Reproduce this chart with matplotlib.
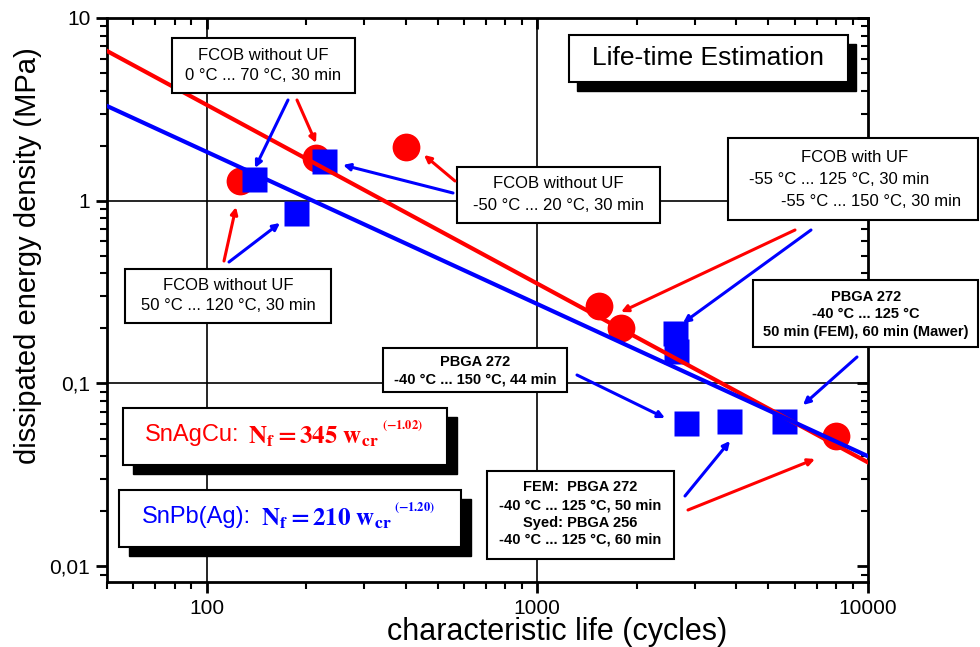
import matplotlib
matplotlib.use("Agg")
import matplotlib.pyplot as plt
from matplotlib.patches import Rectangle, FancyArrowPatch
from matplotlib.ticker import LogLocator, FuncFormatter, NullFormatter

plt.rcParams['font.family'] = ['Liberation Sans', 'DejaVu Sans']
plt.rcParams['mathtext.fontset'] = 'stix'

###### Data
snagcu_cycles = [126, 214, 400, 1540, 1790, 8020]
snagcu_energy = [1.29, 1.72, 1.98, 0.264, 0.20, 0.0515]
snpb_cycles = [139, 227, 187, 2600, 2620, 2810, 3790, 5580]
snpb_energy = [1.32, 1.66, 0.86, 0.19, 0.151, 0.0608, 0.062, 0.062]
fit_cycles = [50, 10000]
snagcu_fit = [6.6, 0.037]
snpb_fit = [3.3, 0.040]

RED, BLUE = '#ff0000', '#0000ff'
W, H = 980, 647

def fx(x): return x / W
def fy(y): return 1 - y / H

fig = plt.figure(figsize=(W / 100, H / 100), dpi=100)
ax = fig.add_axes([fx(107), fy(582), (868 - 107) / W, (582 - 18) / H])

###### Plot
ax.plot(snagcu_cycles, snagcu_energy, 'o', color=RED, ms=20, mec='none', zorder=3)
ax.plot(snpb_cycles, snpb_energy, 's', color=BLUE, ms=18, mec='none', zorder=4)
ax.plot(fit_cycles, snagcu_fit, '-', color=RED, lw=3, zorder=5)
ax.plot(fit_cycles, snpb_fit, '-', color=BLUE, lw=3, zorder=6)

ax.set_xscale('log')
ax.set_yscale('log')
ax.set_xlim(50, 10000)
ax.set_ylim(0.0082, 10)

for v in [100, 1000]:
    ax.axvline(v, color='black', lw=1.2, zorder=1)
for v in [0.1, 1]:
    ax.axhline(v, color='black', lw=1.2, zorder=1)

fmt = FuncFormatter(lambda v, p: f"{v:g}".replace('.', ','))
ax.xaxis.set_major_formatter(fmt)
ax.yaxis.set_major_formatter(fmt)
ax.xaxis.set_minor_formatter(NullFormatter())
ax.yaxis.set_minor_formatter(NullFormatter())
ax.yaxis.set_major_locator(LogLocator(base=10, numticks=10))
ax.yaxis.set_minor_locator(LogLocator(base=10, subs=range(2, 10), numticks=20))

for s in ax.spines.values():
    s.set_linewidth(2)
ax.tick_params(which='major', direction='out', length=8, width=2, labelsize=15, pad=4)
ax.tick_params(which='minor', direction='out', length=5, width=1.5)

secx = ax.secondary_xaxis('top')
secx.tick_params(which='major', direction='in', length=8, width=2, labeltop=False)
secx.tick_params(which='minor', direction='in', length=5, width=1.5)
secx.xaxis.set_major_formatter(NullFormatter())
secx.xaxis.set_minor_formatter(NullFormatter())
secy = ax.secondary_yaxis('right')
secy.tick_params(which='major', direction='in', length=8, width=2, labelright=False)
secy.tick_params(which='minor', direction='in', length=5, width=1.5)
secy.yaxis.set_major_formatter(NullFormatter())
secy.yaxis.set_minor_formatter(NullFormatter())
secy.yaxis.set_minor_locator(LogLocator(base=10, subs=range(2, 10), numticks=20))

fig.text(fx(557), fy(632), 'characteristic life (cycles)', ha='center', va='center', fontsize=22)
fig.text(fx(28), fy(256), 'dissipated energy density (MPa)', ha='center', va='center',
         rotation=90, fontsize=21)

###### Boxes, texts and arrows (figure pixel positions)
def box(x0, y0, x1, y1, shadow=None):
    if shadow:
        fig.patches.append(Rectangle((fx(x0 + shadow[0]), fy(y1 + shadow[1])), (x1 - x0) / W,
                                     (y1 - y0) / H, transform=fig.transFigure,
                                     facecolor='black', edgecolor='black', zorder=2))
    fig.patches.append(Rectangle((fx(x0), fy(y1)), (x1 - x0) / W, (y1 - y0) / H,
                                 transform=fig.transFigure, facecolor='white',
                                 edgecolor='black', lw=1.5, zorder=2.5))

def txt(x, y, s, ha='center', **kw):
    fig.text(fx(x), fy(y), s, ha=ha, va='center', zorder=3, **kw)

def arrow(x0, y0, x1, y1, c):
    fig.add_artist(FancyArrowPatch((fx(x0), fy(y0)), (fx(x1), fy(y1)), transform=fig.transFigure,
                                   arrowstyle='-|>', mutation_scale=10, color=c, lw=2.2,
                                   shrinkA=0, shrinkB=0, zorder=3))

box(569, 35, 848, 82, shadow=(8, 9))
txt(708, 58, 'Life-time Estimation', fontsize=19)

box(172, 38, 355, 93)
txt(263, 56, 'FCOB without UF', fontsize=12)
txt(263, 76, '0 °C ... 70 °C, 30 min', fontsize=12)

box(457, 167, 660, 223)
txt(558, 184, 'FCOB without UF', fontsize=12)
txt(558, 205, '-50 °C ... 20 °C, 30 min', fontsize=12)

box(728, 138, 978, 220)
txt(855, 158, 'FCOB with UF', fontsize=12)
txt(749, 180, '-55 °C ... 125 °C, 30 min', ha='left', fontsize=12)
txt(781, 202, '-55 °C ... 150 °C, 30 min', ha='left', fontsize=12)

box(753, 280, 978, 347)
txt(866, 297, 'PBGA 272', fontsize=10.5, fontweight='bold')
txt(866, 314, '-40 °C ... 125 °C', fontsize=10.5, fontweight='bold')
txt(866, 332, '50 min (FEM), 60 min (Mawer)', fontsize=10.5, fontweight='bold')

box(383, 348, 567, 392)
txt(475, 362, 'PBGA 272', fontsize=10.5, fontweight='bold')
txt(475, 379, '-40 °C ... 150 °C, 44 min', fontsize=10.5, fontweight='bold')

box(487, 471, 674, 559)
txt(580, 487, 'FEM:  PBGA 272', fontsize=10.5, fontweight='bold')
txt(580, 505, '-40 °C ... 125 °C, 50 min', fontsize=10.5, fontweight='bold')
txt(580, 523, 'Syed: PBGA 256', fontsize=10.5, fontweight='bold')
txt(580, 540, '-40 °C ... 125 °C, 60 min', fontsize=10.5, fontweight='bold')

box(125, 269, 331, 323)
txt(228, 285, 'FCOB without UF', fontsize=12)
txt(228, 306, '50 °C ... 120 °C, 30 min', fontsize=12)

# formula boxes
box(123, 408, 447, 465, shadow=(10, 9))
txt(145, 435, 'SnAgCu:', ha='left', fontsize=17, color=RED)
txt(248, 437, r'$\mathbf{N_f = 345\ w_{cr}}$', ha='left', fontsize=18, color=RED)
txt(382, 426, r'$\mathbf{(-1.02)}$', ha='left', fontsize=9, color=RED)

box(119, 490, 461, 547, shadow=(10, 9))
txt(142, 517, 'SnPb(Ag):', ha='left', fontsize=17, color=BLUE)
txt(261, 519, r'$\mathbf{N_f = 210\ w_{cr}}$', ha='left', fontsize=18, color=BLUE)
txt(394, 508, r'$\mathbf{(-1.20)}$', ha='left', fontsize=9, color=BLUE)

arrow(288, 100, 255, 168, BLUE)
arrow(297, 100, 316, 143, RED)
arrow(455, 181, 424, 155, RED)
arrow(453, 193, 343, 165, BLUE)
arrow(795, 230, 621, 312, RED)
arrow(811, 230, 683, 323, BLUE)
arrow(857, 357, 803, 405, BLUE)
arrow(577, 375, 665, 418, BLUE)
arrow(685, 496, 730, 441, BLUE)
arrow(688, 510, 815, 459, RED)
arrow(224, 261, 236, 207, RED)
arrow(229, 262, 280, 223, BLUE)

fig.savefig('out.png', dpi=100, facecolor='white')
